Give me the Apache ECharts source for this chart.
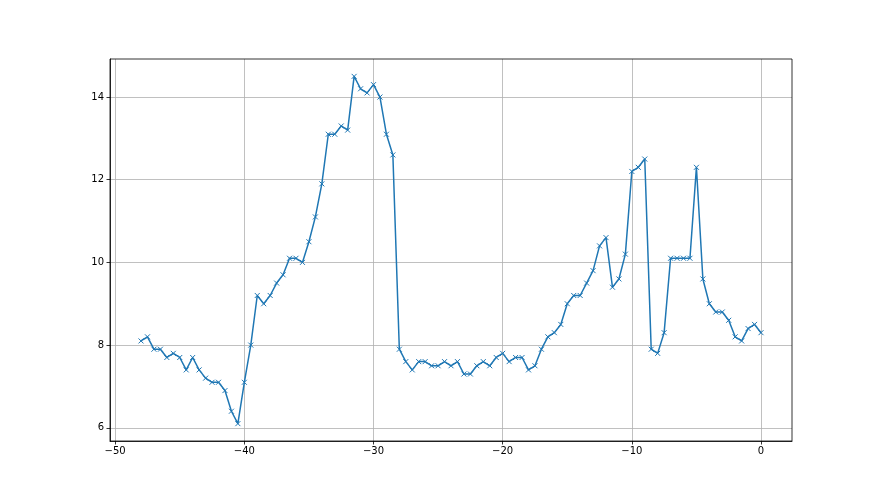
<!DOCTYPE html>
<html>
<head>
<meta charset="utf-8">
<script src="https://cdn.jsdelivr.net/npm/echarts@6/dist/echarts.min.js"></script>
<style>
html,body{margin:0;padding:0;background:#fff;}
#chart{width:880px;height:495px;}
</style>
</head>
<body>
<div id="chart"></div>
<script>
var xValues = [-48,-47.5,-47,-46.5,-46,-45.5,-45,-44.5,-44,-43.5,-43,-42.5,-42,-41.5,-41,-40.5,
  -40,-39.5,-39,-38.5,-38,-37.5,-37,-36.5,-36,-35.5,-35,-34.5,-34,-33.5,-33,-32.5,
  -32,-31.5,-31,-30.5,-30,-29.5,-29,-28.5,-28,-27.5,-27,-26.5,-26,-25.5,-25,-24.5,
  -24,-23.5,-23,-22.5,-22,-21.5,-21,-20.5,-20,-19.5,-19,-18.5,-18,-17.5,-17,-16.5,
  -16,-15.5,-15,-14.5,-14,-13.5,-13,-12.5,-12,-11.5,-11,-10.5,-10,-9.5,-9,-8.5,
  -8,-7.5,-7,-6.5,-6,-5.5,-5,-4.5,-4,-3.5,-3,-2.5,-2,-1.5,-1,-0.5,0];
var yValues = [8.1,8.2,7.9,7.9,7.7,7.8,7.7,7.4,7.7,7.4,7.2,7.1,7.1,6.9,6.4,6.1,
  7.1,8.0,9.2,9.0,9.2,9.5,9.7,10.1,10.1,10.0,10.5,11.1,11.9,13.1,13.1,13.3,
  13.2,14.5,14.2,14.1,14.3,14.0,13.1,12.6,7.9,7.6,7.4,7.6,7.6,7.5,7.5,7.6,
  7.5,7.6,7.3,7.3,7.5,7.6,7.5,7.7,7.8,7.6,7.7,7.7,7.4,7.5,7.9,8.2,
  8.3,8.5,9.0,9.2,9.2,9.5,9.8,10.4,10.6,9.4,9.6,10.2,12.2,12.3,12.5,7.9,
  7.8,8.3,10.1,10.1,10.1,10.1,12.3,9.6,9.0,8.8,8.8,8.6,8.2,8.1,8.4,8.5,8.3];
var xTicks = [-50,-40,-30,-20,-10,0];
var yTicks = [6,8,10,12,14];

var data = xValues.map(function(x,i){return [x, yValues[i]];});
var fmt = function(v){ return String(v).replace('-', '\u2212'); };
var labelStyle = {fontFamily:'DejaVu Sans', fontSize:10, color:'#000'};

var chart = echarts.init(document.getElementById('chart'), null, {renderer:'canvas'});
chart.setOption({
  animation:false,
  backgroundColor:'#fff',
  grid:{left:110, top:59, right:88, bottom:54, containLabel:false, show:true,
        borderColor:'#000', borderWidth:0.8, backgroundColor:'transparent', z:10},
  xAxis:{
    type:'value', min:-50.4, max:2.4,
    axisLine:{show:true, onZero:false, lineStyle:{color:'#000', width:0.8}},
    axisTick:{show:true, length:3.5, customValues:xTicks, lineStyle:{color:'#000', width:0.8}},
    axisLabel:Object.assign({customValues:xTicks, formatter:fmt, margin:5}, labelStyle),
    splitLine:{show:true, lineStyle:{color:'#b0b0b0', width:0.8}}
  },
  yAxis:{
    type:'value', min:5.68, max:14.92,
    axisLine:{show:true, onZero:false, lineStyle:{color:'#000', width:0.8}},
    axisTick:{show:true, length:3.5, customValues:yTicks, lineStyle:{color:'#000', width:0.8}},
    axisLabel:Object.assign({customValues:yTicks, formatter:fmt, margin:6}, labelStyle),
    splitLine:{show:true, lineStyle:{color:'#b0b0b0', width:0.8}}
  },
  series:[{
    type:'line',
    data:data,
    showAllSymbol:true,
    symbol:'path://M0,0L10,10M10,0L0,10',
    symbolSize:5,
    lineStyle:{color:'#1f77b4', width:1.5},
    itemStyle:{color:'#1f77b4', borderColor:'#1f77b4', borderWidth:1},
    emphasis:{disabled:true},
    z:3
  }]
});
</script>
</body>
</html>
